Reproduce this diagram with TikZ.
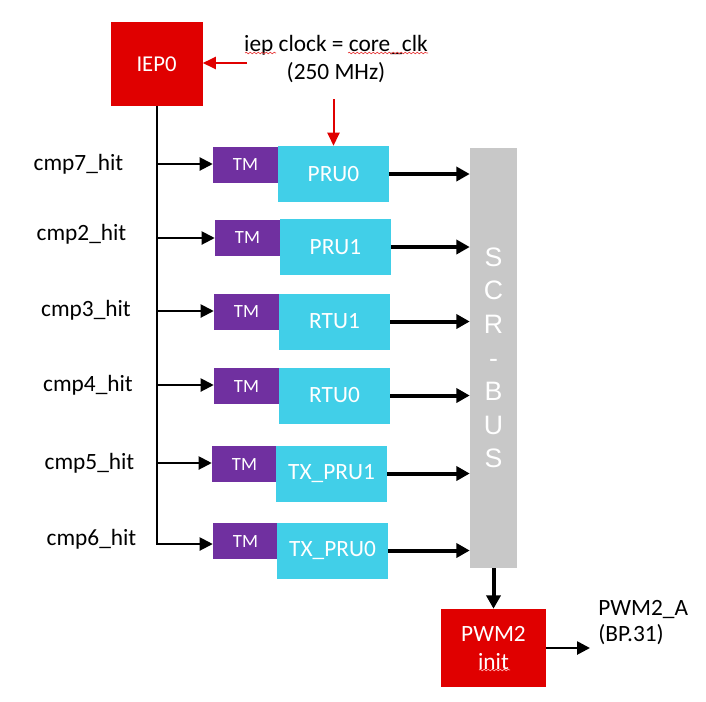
\documentclass[tikz,border=0pt]{standalone}
\usepackage{fontspec}
\setmainfont{Carlito}
\newfontfamily\busfont{Liberation Sans}
\usetikzlibrary{arrows.meta,decorations.pathmorphing}
\definecolor{iepred}{RGB}{224,0,0}
\definecolor{tmpurple}{RGB}{112,48,160}
\definecolor{prucyan}{RGB}{65,207,232}
\definecolor{busgray}{RGB}{200,200,200}
\definecolor{spellred}{RGB}{230,60,60}
\definecolor{spellpink}{RGB}{255,170,170}
\tikzset{
  redbox/.style={fill=iepred, text=white, inner sep=0pt, align=center, font=\fontsize{17}{20}\selectfont},
  tmbox/.style={fill=tmpurple, text=white, minimum width=48.75pt, minimum height=27pt, inner sep=0pt, font=\fontsize{14}{16}\selectfont},
  prubox/.style={fill=prucyan, text=white, minimum width=83.25pt, minimum height=42pt, inner sep=0pt, font=\fontsize{17.5}{20}\selectfont},
  lbl/.style={inner sep=0pt, font=\fontsize{17.5}{20}\selectfont},
  thinarrow/.style={line width=1.5pt, -{Triangle[length=9.75pt,width=9.75pt]}},
  thickarrow/.style={line width=3pt, -{Triangle[length=10pt,width=10.5pt]}},
  medarrow/.style={line width=2pt, -{Triangle[length=9.75pt,width=9.75pt]}},
  redarrow/.style={draw=iepred, line width=1.5pt, -{Triangle[length=9.75pt,width=9pt]}},
  spell/.style={draw=spellred, line width=0.5pt, decorate, decoration={snake, amplitude=0.6pt, segment length=3pt}},
}
\begin{document}
\begin{tikzpicture}[x=0.75pt,y=-0.75pt]
\useasboundingbox (0,0) rectangle (706,701);

% IEP0 and clock
\node[redbox, minimum width=69pt, minimum height=63pt] (iep) at (156.5,64) {IEP0};
\node[lbl, align=center, font=\fontsize{17.5}{20.5}\selectfont] (clk) at (336,59) {iep clock = core\_clk\\(250 MHz)};
\coordinate (clkl) at (247,63);
\coordinate (clkd) at (333.5,99);

% rows
\node[tmbox] (tm1) at (245.5,165) {TM};
\node[prubox] (p1) at (333.5,174) {PRU0};
\node[tmbox] (tm2) at (247.5,238) {TM};
\node[prubox] (p2) at (335.5,247) {PRU1};
\node[tmbox] (tm3) at (246.5,312) {TM};
\node[prubox] (p3) at (334.5,321.5) {RTU1};
\node[tmbox] (tm4) at (246.5,386) {TM};
\node[prubox] (p4) at (334.5,395.5) {RTU0};
\node[tmbox] (tm5) at (244.5,464) {TM};
\node[prubox] (p5) at (331.5,473.5) {TX\_PRU1};
\node[tmbox] (tm6) at (245.5,541) {TM};
\node[prubox] (p6) at (332.5,550.5) {TX\_PRU0};

% labels
\node[lbl] (c7) at (78.5,164) {cmp7\_hit};
\node[lbl] (c2) at (81.5,234) {cmp2\_hit};
\node[lbl] (c3) at (86,310) {cmp3\_hit};
\node[lbl] (c4) at (88,385) {cmp4\_hit};
\node[lbl] (c5) at (89.5,463) {cmp5\_hit};
\node[lbl] (c6) at (91.5,539) {cmp6\_hit};

% bus
\node[fill=busgray, minimum width=35.25pt, minimum height=315pt, inner sep=0pt] (bus) at (493.5,358) {};
\node[text=white, align=center, inner sep=0pt, font=\busfont\fontsize{20}{25.2}\selectfont] (bustxt) at (bus.center) {S\\C\\R\\-\\B\\U\\S};

% PWM2
\node[redbox, minimum width=78.75pt, minimum height=58.5pt, font=\fontsize{17.5}{20.5}\selectfont] (pwm) at (493.5,648) {PWM2\\init};
\coordinate (pwmout) at (590,648);
\node[lbl, anchor=north west, align=left, font=\fontsize{17.5}{19.5}\selectfont] (pwma) at (598,600) {PWM2\_A\\(BP.31)};

% trunk and branches
\coordinate (t1) at (156.5,164);
\coordinate (t2) at (156.5,238);
\coordinate (t3) at (156.5,311);
\coordinate (t4) at (156.5,385);
\coordinate (t5) at (156.5,463);
\coordinate (t6) at (156.5,544);
\draw[thinarrow] (iep.south) -- (t6) -- (t6 -| tm6.west);
\foreach \i in {1,...,5} {
  \draw[thinarrow] (t\i) -- (t\i -| tm\i.west);
}

% to bus
\foreach \i in {1,...,6} {
  \draw[thickarrow] (p\i.east) -- (p\i.east -| bus.west);
}
\draw[thickarrow] (bus.south) -- (pwm.north);
\draw[medarrow] (pwm.east) -- (pwmout);

% red clock arrows
\draw[redarrow] (clkl) -- (iep.east |- clkl);
\draw[redarrow] (clkd) -- (clkd |- p1.north);

% spell-check marks
\draw[spell] (245,53) -- (276,53);
\draw[spell] (348,53) -- (428,53);
\draw[spell, draw=spellpink] (479,670) -- (510,670);
\end{tikzpicture}
\end{document}
